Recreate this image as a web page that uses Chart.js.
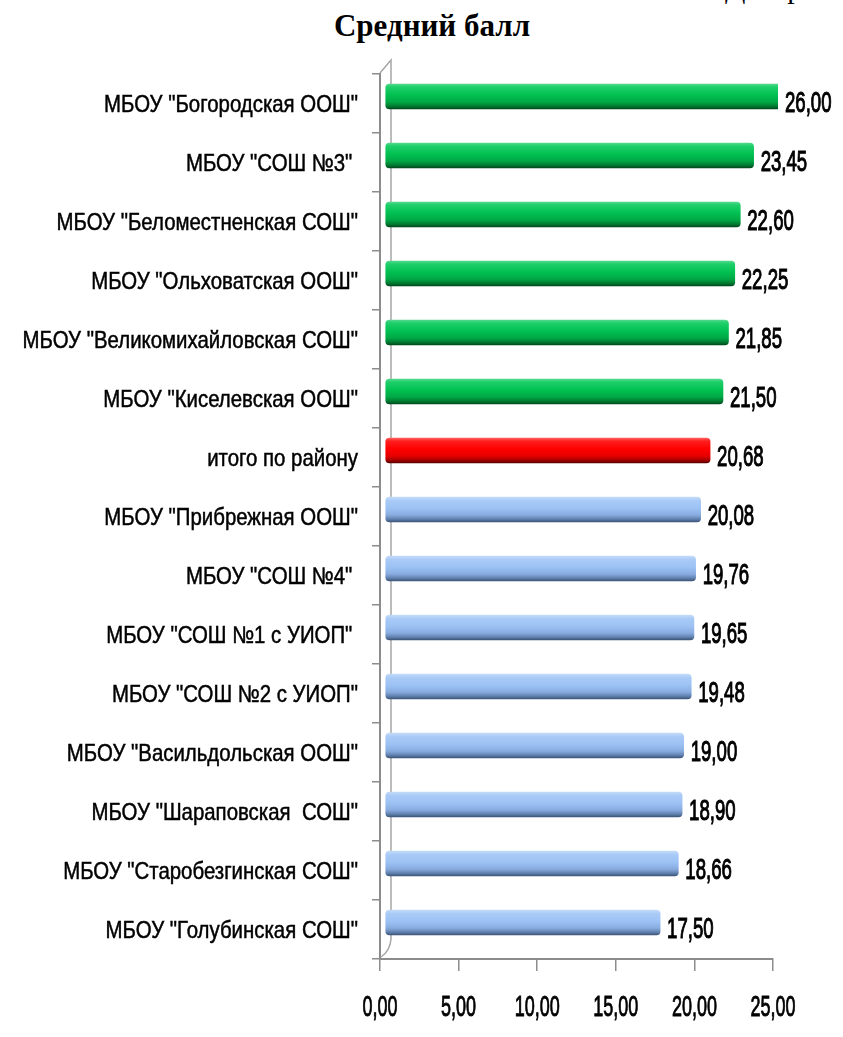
<!DOCTYPE html>
<html lang="ru">
<head>
<meta charset="utf-8">
<title>Средний балл</title>
<script src="https://cdn.jsdelivr.net/npm/chart.js@4.4.1/dist/chart.umd.min.js"></script>
<style>
  html, body { margin: 0; padding: 0; background: #fff; }
  #wrap { position: relative; width: 843px; height: 1037px; overflow: hidden; }
  #cut { position: absolute; left: 725px; top: -29px; font: 30px 'Liberation Serif', 'Times New Roman', serif; color: #000; white-space: nowrap; }
  #title { position: absolute; left: 0; width: 864px; top: 8px; text-align: center; font: bold 31px 'Liberation Serif', 'Times New Roman', serif; color: #000; }
  canvas { position: absolute; left: 0; top: 0; }
</style>
</head>
<body>
<div id="wrap">
  <div id="cut">Диаграмма</div>
  <div id="title">Средний балл</div>
  <canvas id="avgChart" width="843" height="1037"></canvas>
</div>
<script>
// schools, top to bottom
const schools = [
    'МБОУ "Богородская ООШ"',
    'МБОУ "СОШ №3" ',
    'МБОУ "Беломестненская СОШ"',
    'МБОУ "Ольховатская ООШ"',
    'МБОУ "Великомихайловская СОШ"',
    'МБОУ "Киселевская ООШ"',
    'итого по району',
    'МБОУ "Прибрежная ООШ"',
    'МБОУ "СОШ №4" ',
    'МБОУ "СОШ №1 с УИОП" ',
    'МБОУ "СОШ №2 с УИОП"',
    'МБОУ "Васильдольская ООШ"',
    'МБОУ "Шараповская  СОШ"',
    'МБОУ "Старобезгинская СОШ"',
    'МБОУ "Голубинская СОШ"'
];
const avgScore = [26.00, 23.45, 22.60, 22.25, 21.85, 21.50, 20.68, 20.08, 19.76, 19.65, 19.48, 19.00, 18.90, 18.66, 17.50];
// above / district total / below
const barGroup = ['up', 'up', 'up', 'up', 'up', 'up', 'total', 'down', 'down', 'down', 'down', 'down', 'down', 'down', 'down'];
const xTicks = [0, 5, 10, 15, 20, 25];

const FONT = "'Liberation Sans', Arial, sans-serif";
const BAR_H = 25;
// 3d depth: bars sit on the back plane, a little right and up
const DEPTH_X = 5, DEPTH_Y = -7;

const shades = {
    up:    [[0, '#52d98d'], [0.12, '#1fcf6a'], [0.45, '#00c050'], [0.72, '#00a845'], [0.88, '#007d33'], [1, '#00491c']],
    total: [[0, '#ff6060'], [0.12, '#ff1f1f'], [0.45, '#ff0000'], [0.72, '#e60000'], [0.88, '#a80000'], [1, '#5c0000']],
    down:  [[0, '#c3dbf8'], [0.15, '#a9caf7'], [0.45, '#9cc2f4'], [0.72, '#89ace0'], [0.88, '#6283b1'], [1, '#3d5579']]
};

function comma(v) {
    return v.toFixed(2).replace('.', ',');
}

// condensed text, like the narrow font of the original
function narrowText(ctx, text, x, y, align, sx, weight) {
    ctx.save();
    ctx.translate(x, y);
    ctx.scale(sx, 1);
    ctx.textAlign = align;
    ctx.fillText(text, 0, 0);
    if (weight) {
        ctx.lineWidth = weight;
        ctx.strokeText(text, 0, 0);
    }
    ctx.restore();
}

function barFill(c) {
    const stops = shades[barGroup[c.dataIndex]] || shades.down;
    const y = c.chart.scales.y;
    if (!y || c.dataIndex === undefined) return stops[2][1];
    const yc = y.getPixelForValue(c.dataIndex);
    if (!isFinite(yc)) return stops[2][1];
    const g = c.chart.ctx.createLinearGradient(0, yc - BAR_H / 2, 0, yc + BAR_H / 2);
    stops.forEach(s => g.addColorStop(s[0], s[1]));
    return g;
}

const depthBars = {
    id: 'depthBars',
    beforeDatasetsDraw(chart) {
        chart.ctx.save();
        chart.ctx.translate(DEPTH_X, DEPTH_Y);
    },
    afterDatasetsDraw(chart) {
        const ctx = chart.ctx;
        ctx.restore();
        // values right of the bars
        const area = chart.chartArea;
        ctx.save();
        ctx.fillStyle = '#000';
        ctx.strokeStyle = '#000';
        ctx.font = '30px ' + FONT;
        ctx.textBaseline = 'alphabetic';
        chart.getDatasetMeta(0).data.forEach((bar, i) => {
            const x = Math.min(bar.x, area.right) + DEPTH_X + 7;
            narrowText(ctx, comma(avgScore[i]), x, bar.y + DEPTH_Y + 15, 'left', 0.62, 1.1);
        });
        ctx.restore();
    }
};

// axis labels and the 3d back wall edge
const axisText = {
    id: 'axisText',
    beforeDatasetsDraw(chart) {
        const ctx = chart.ctx;
        const a = chart.chartArea;
        ctx.save();
        ctx.strokeStyle = '#a6a6a6';
        ctx.lineWidth = 1.5;
        ctx.beginPath();
        ctx.moveTo(a.left, a.top - 1);
        ctx.lineTo(a.left + 11, a.top - 14);
        ctx.lineTo(a.left + 11, a.bottom - 20);
        ctx.quadraticCurveTo(a.left + 10, a.bottom - 8, a.left + 1, a.bottom - 2);
        ctx.stroke();
        ctx.restore();
    },
    afterDraw(chart) {
        const ctx = chart.ctx;
        const ys = chart.scales.y, xs = chart.scales.x;
        ctx.save();
        ctx.fillStyle = '#000';
        ctx.strokeStyle = '#000';
        ctx.textBaseline = 'alphabetic';
        ctx.font = '24px ' + FONT;
        ys.ticks.forEach((t, i) => {
            narrowText(ctx, chart.data.labels[t.value], ys.right - 22, ys.getPixelForTick(i) + 8, 'right', 0.85, 0.5);
        });
        ctx.font = '30px ' + FONT;
        xs.ticks.forEach((t, i) => {
            narrowText(ctx, comma(t.value), xs.getPixelForTick(i), xs.top + 57, 'center', 0.6, 0.9);
        });
        ctx.restore();
    }
};

const ctx = document.getElementById('avgChart').getContext('2d');
const avgChart = new Chart(ctx, {
    type: 'bar',
    data: {
        labels: schools,
        datasets: [{
            data: avgScore,
            backgroundColor: barFill,
            barThickness: BAR_H,
            borderRadius: 4,
            borderSkipped: false,
            borderWidth: 0
        }]
    },
    options: {
        indexAxis: 'y',
        responsive: false,
        animation: false,
        devicePixelRatio: 1,
        layout: { padding: { top: 74, right: 70, left: 0, bottom: 0 } },
        plugins: {
            legend: { display: false },
            title: { display: false },
            tooltip: { enabled: false }
        },
        scales: {
            x: {
                min: 0,
                max: 25,
                afterBuildTicks: scale => { scale.ticks = xTicks.map(v => ({ value: v })); },
                afterFit: scale => { scale.height = 78; },
                grid: { drawOnChartArea: false, drawTicks: true, tickLength: 12, color: '#8c8c8c', lineWidth: 1.5 },
                border: { display: true, color: '#8c8c8c', width: 2 },
                ticks: { display: false }
            },
            y: {
                afterFit: scale => { scale.width = 380; },
                grid: { drawOnChartArea: false, drawTicks: true, tickLength: 8, color: '#8c8c8c', lineWidth: 1.5 },
                border: { display: true, color: '#8c8c8c', width: 2 },
                ticks: { display: false, autoSkip: false }
            }
        }
    },
    plugins: [axisText, depthBars]
});
</script>
</body>
</html>
